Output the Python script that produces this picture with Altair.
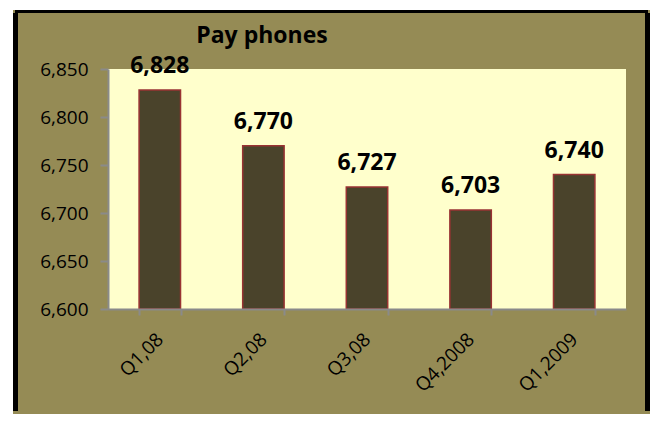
import altair as alt
import pandas as pd

# ---- data ----
quarters = ["Q1,08", "Q2,08", "Q3,08", "Q4,2008", "Q1,2009"]
phones = [6828, 6770, 6727, 6703, 6740]
y_ticks = [6600, 6650, 6700, 6750, 6800, 6850]
title_text = "Pay phones"

df = pd.DataFrame({"quarter": quarters, "phones": phones})
one = pd.DataFrame({"k": [0]})

# ---- style ----
W, H = 518, 240
OLIVE = "#958B55"
PLOT_BG = "#FFFFCC"
BAR = "#4A432B"
BAR_EDGE = "#993333"
GRAY = "#8A8A8A"
FONT = "Open Sans"

x_enc = alt.X(
    "quarter:N",
    sort=quarters,
    scale=alt.Scale(paddingInner=0.6, paddingOuter=0.3),
    axis=alt.Axis(
        title=None, labelAngle=-45, labelAlign="right", labelBaseline="middle",
        labelFont=FONT, labelFontSize=19, labelColor="black",
        tickBand="extent", tickSize=6, tickColor=GRAY, tickWidth=2,
        domainColor=GRAY, domainWidth=2, labelPadding=21, zindex=1,
    ),
)
y_scale = alt.Scale(domain=[6600, 6850], zero=False, nice=False)
y_enc = alt.Y(
    "phones:Q",
    scale=y_scale,
    axis=alt.Axis(
        values=y_ticks, format=",.0f", title=None, grid=False,
        labelFont=FONT, labelFontSize=19, labelColor="black",
        tickSize=8, tickColor=GRAY, tickWidth=2,
        domainColor=GRAY, domainWidth=2, labelPadding=12, zindex=1,
    ),
)

frame = alt.Chart(one).mark_rect(fill=OLIVE).encode(
    x=alt.value(-95), x2=alt.value(542), y=alt.value(-59), y2=alt.value(345)
)
plot_bg = alt.Chart(one).mark_rect(fill=PLOT_BG).encode(
    x=alt.value(0), x2=alt.value(W), y=alt.value(0), y2=alt.value(H)
)
left_border = alt.Chart(one).mark_rule(color="black", strokeWidth=5).encode(
    x=alt.value(-92.5), y=alt.value(-56), y2=alt.value(342)
)
right_border = alt.Chart(one).mark_rule(color="black", strokeWidth=5).encode(
    x=alt.value(539.5), y=alt.value(-56), y2=alt.value(342)
)
top_border = alt.Chart(one).mark_rule(color="black", strokeWidth=3).encode(
    x=alt.value(-93), x2=alt.value(540), y=alt.value(-57.5)
)
title = alt.Chart(one).mark_text(
    text=title_text, font=FONT, fontSize=23, fontWeight="bold",
    align="center", baseline="alphabetic", color="black",
).encode(x=alt.value(154), y=alt.value(-26))

bars = alt.Chart(df).mark_bar(color=BAR, stroke=BAR_EDGE, strokeWidth=1.5).encode(
    x=x_enc, y=y_enc, y2=alt.datum(6600)
)
labels = alt.Chart(df).mark_text(
    font=FONT, fontSize=23, fontWeight="bold", baseline="bottom", dy=-12, color="black"
).encode(
    x=x_enc,
    y=y_enc,
    text=alt.Text("phones:Q", format=",.0f"),
)

chart = alt.layer(
    frame, plot_bg, left_border, right_border, top_border, title, bars, labels
).properties(
    width=W, height=H,
    padding={"left": 5, "top": 2, "right": 0, "bottom": 0},
).configure_view(strokeWidth=0)

chart.save("out.html", embed_options={"renderer": "svg", "actions": False})
